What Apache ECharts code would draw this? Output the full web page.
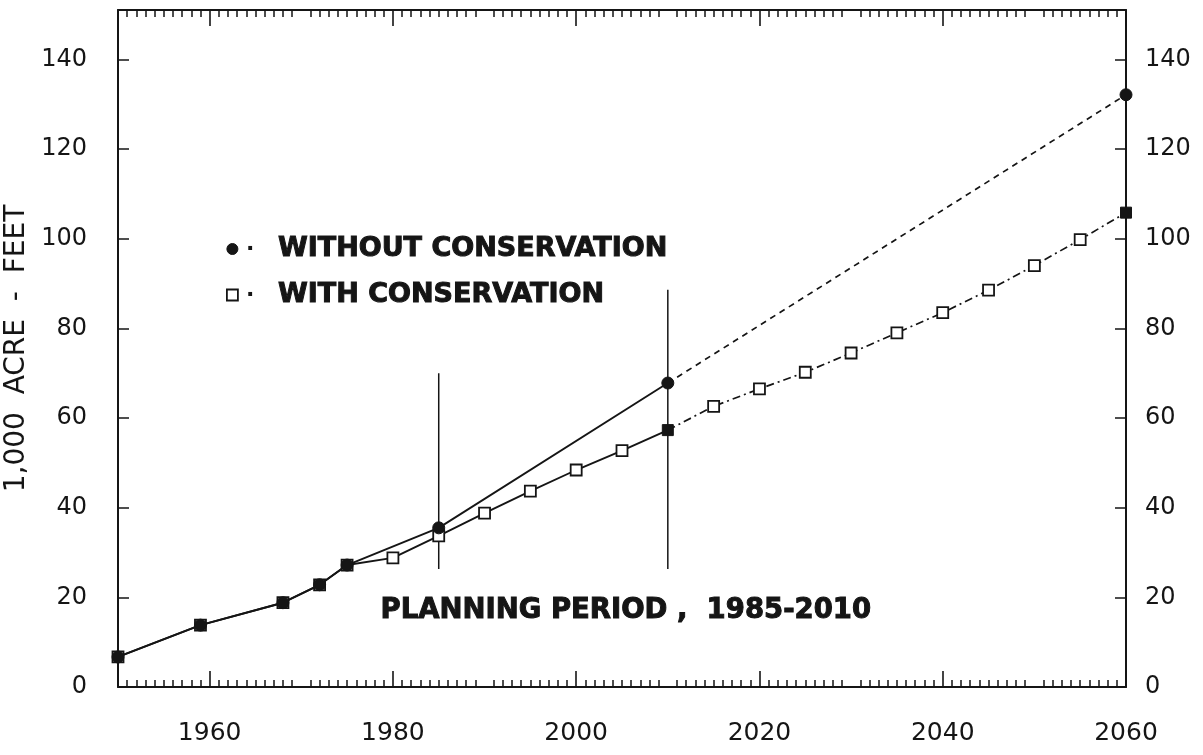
<!DOCTYPE html>
<html><head><meta charset="utf-8">
<script src="https://cdn.jsdelivr.net/npm/echarts@6/dist/echarts.min.js"></script>
<style>html,body{margin:0;padding:0;background:#fff}#c{width:1203px;height:755px}</style>
</head><body><div id="c"></div>
<script>
// ---- data ----
const withoutYears = [1950, 1959, 1968, 1972, 1975, 1985, 2010];
const withoutVals  = [6.7, 13.8, 18.8, 22.8, 27.2, 35.5, 67.8];
const withoutProjYears = [2010, 2060];
const withoutProjVals  = [67.8, 132.1];
const withYears = [1950, 1959, 1968, 1972, 1975, 1980, 1985, 1990, 1995, 2000, 2005, 2010];
const withVals  = [6.7, 13.8, 18.8, 22.8, 27.2, 28.8, 33.7, 38.8, 43.7, 48.4, 52.7, 57.3];
const withProjYears = [2010, 2015, 2020, 2025, 2030, 2035, 2040, 2045, 2050, 2055, 2060];
const withProjVals  = [57.3, 62.6, 66.5, 70.2, 74.5, 79.0, 83.5, 88.5, 94.0, 99.8, 105.8];
const periodYears = [1985, 2010];
const periodLow   = [26.3, 26.3];
const periodHigh  = [70.0, 88.6];
const xTickLabels = [1960, 1980, 2000, 2020, 2040, 2060];
const yTickLabels = [0, 20, 40, 60, 80, 100, 120, 140];
const seriesNames = ['WITHOUT CONSERVATION', 'WITH CONSERVATION'];
const planningLabel = 'PLANNING PERIOD ,  1985-2010';
const yAxisTitle = '1,000  ACRE  -  FEET';

const INK = '#151515';
const zip = (xs, ys) => xs.map((x, i) => [x, ys[i]]);
const filled = { color: INK, borderColor: INK, borderWidth: 1 };
const openSq = { color: '#fff', borderColor: INK, borderWidth: 1.8 };

const withHist = zip(withYears, withVals).map((p, i, a) =>
  i === a.length - 1 ? { value: p, itemStyle: filled } : { value: p });
const withProj = zip(withProjYears, withProjVals).map((p, i, a) =>
  i === 0 ? { value: p, symbol: 'none' } :
  i === a.length - 1 ? { value: p, itemStyle: filled } : { value: p });
const withoutProj = zip(withoutProjYears, withoutProjVals).map((p, i) =>
  i === 0 ? { value: p, symbol: 'none' } : { value: p });

const periodSeries = periodYears.map((yr, i) => ({
  type: 'line', silent: true, symbol: 'none', z: 1,
  lineStyle: { color: INK, width: 1.5 },
  data: [[yr, periodLow[i]], [yr, periodHigh[i]]]
}));

const xAxisBase = {
  type: 'value', min: 1950, max: 2060, interval: 10,
  axisLine: { onZero: false, lineStyle: { color: INK, width: 2 } },
  axisTick: { inside: true, length: 16, customValues: xTickLabels, lineStyle: { color: INK, width: 1.6 } },
  minorTick: { show: true, splitNumber: 10, length: 7, lineStyle: { color: INK, width: 1.5 } },
  splitLine: { show: false }, minorSplitLine: { show: false }
};
const yAxisBase = {
  type: 'value', min: 0, max: 151, interval: 20,
  axisLine: { show: true, onZero: false, lineStyle: { color: INK, width: 2 } },
  axisTick: { show: true, inside: true, length: 11, customValues: yTickLabels, lineStyle: { color: INK, width: 1.5 } },
  splitLine: { show: false }
};
const labelFont = { fontFamily: 'DejaVu Sans', color: INK, formatter: v => String(v) };

const chart = echarts.init(document.getElementById('c'), null, { renderer: 'canvas' });
chart.setOption({
  backgroundColor: '#fff',
  animation: false,
  grid: { left: 118, right: 77, top: 10, bottom: 68, containLabel: false, outerBoundsMode: 'none' },
  xAxis: [
    Object.assign({}, xAxisBase, { position: 'bottom',
      axisLabel: Object.assign({ customValues: xTickLabels, margin: 34, fontSize: 25 }, labelFont) }),
    Object.assign({}, xAxisBase, { position: 'top', axisLabel: { show: false } })
  ],
  yAxis: [
    Object.assign({}, yAxisBase, { position: 'left',
      name: yAxisTitle, nameLocation: 'middle', nameGap: 86, nameRotate: 90,
      nameTextStyle: { fontFamily: 'DejaVu Sans', fontSize: 28, color: INK },
      axisLabel: Object.assign({ customValues: yTickLabels, margin: 31, fontSize: 24 }, labelFont) }),
    Object.assign({}, yAxisBase, { position: 'right',
      axisLabel: Object.assign({ customValues: yTickLabels, margin: 19, fontSize: 24 }, labelFont) })
  ],
  legend: {
    orient: 'vertical', left: 221, top: 230, itemGap: 18,
    itemWidth: 11, itemHeight: 11,
    selectedMode: false,
    data: [
      { name: seriesNames[0], icon: 'circle', itemStyle: filled },
      { name: seriesNames[1], icon: 'rect', itemStyle: openSq }
    ],
    formatter: n => '{m|·}{t|' + n + '}',
    textStyle: {
      rich: {
        m: { width: 32, align: 'left', padding: [0, 0, 0, 3], fontSize: 22, fontWeight: 'bold', fontFamily: 'DejaVu Sans', color: INK },
        t: { fontSize: 27, lineHeight: 28, fontWeight: 'bold', fontFamily: 'DejaVu Sans', color: INK,
             textBorderColor: INK, textBorderWidth: 1 }
      }
    }
  },
  graphic: [{
    type: 'text', left: 380, top: 596, silent: true,
    style: { text: planningLabel, font: 'bold 27.5px "DejaVu Sans"', fill: INK, stroke: INK, lineWidth: 1 }
  }],
  series: [
    ...periodSeries,
    { name: seriesNames[1], type: 'line', z: 3, symbol: 'rect', symbolSize: 11,
      itemStyle: openSq, lineStyle: { color: INK, width: 1.9 }, data: withHist },
    { name: seriesNames[1] + ' projected', type: 'line', z: 3, symbol: 'rect', symbolSize: 11,
      itemStyle: openSq, lineStyle: { color: INK, width: 1.7, type: [8, 4, 2, 4] }, data: withProj },
    { name: seriesNames[0], type: 'line', z: 4, symbol: 'circle', symbolSize: 12,
      itemStyle: filled, lineStyle: { color: INK, width: 1.9 }, data: zip(withoutYears, withoutVals) },
    { name: seriesNames[0] + ' projected', type: 'line', z: 4, symbol: 'circle', symbolSize: 12,
      itemStyle: filled, lineStyle: { color: INK, width: 1.7, type: [6, 5] }, data: withoutProj }
  ]
});
</script></body></html>
